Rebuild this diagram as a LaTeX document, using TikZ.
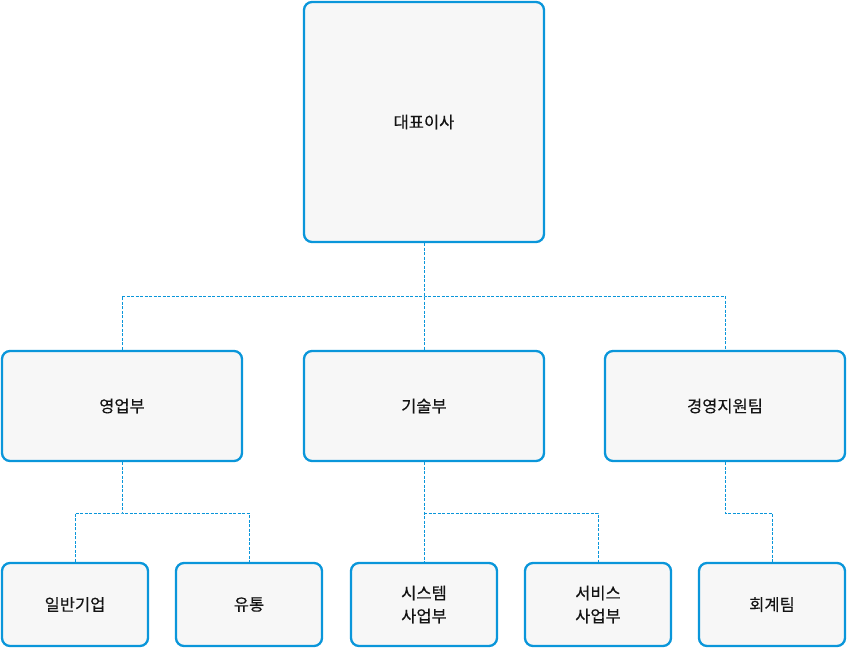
\documentclass[tikz,border=0pt]{standalone}
\usepackage{fontspec}
\setmainfont{Noto Sans CJK KR}[FakeBold=0.3]
\definecolor{lineblue}{RGB}{10,150,218}
\definecolor{boxgray}{RGB}{247,247,247}
\definecolor{textgray}{RGB}{20,20,20}

\begin{document}
\begin{tikzpicture}[x=1pt,y=-1pt,
  orgbox/.style={draw=lineblue, line width=2.3pt, fill=boxgray, rounded corners=8pt,
    minimum width=240pt, minimum height=110pt, inner sep=0pt,
    text=textgray, font=\fontsize{16.5}{23}\selectfont, align=center},
  teambox/.style={orgbox, minimum width=146pt, minimum height=83pt},
  link/.style={draw=lineblue, line width=0.9pt, dash pattern=on 3pt off 1.5pt}]
\useasboundingbox (0,0) rectangle (847,649);

% top
\node[orgbox, minimum height=240pt] (ceo) at (424,122) {대표이사};

% departments
\node[orgbox] (sales) at (122,406) {영업부};
\node[orgbox] (tech) at (424,406) {기술부};
\node[orgbox] (mgmt) at (725,406) {경영지원팀};

% teams
\node[teambox] (corp) at (75,604.5) {일반기업};
\node[teambox] (retail) at (249,604.5) {유통};
\node[teambox] (sys) at (424,604.5) {시스템\\사업부};
\node[teambox] (svc) at (598,604.5) {서비스\\사업부};
\node[teambox] (acct) at (772,604.5) {회계팀};

% connectors
\coordinate (bus1) at (424,296);
\coordinate (bus2) at (122,513);
\coordinate (bus3) at (424,513);
\coordinate (bus4) at (772,513);

\draw[link] (ceo.south) -- (tech.north);
\draw[link] (sales.north) |- (bus1) -| (mgmt.north);

\draw[link] (sales.south) -- (bus2);
\draw[link] (corp.north) |- (bus2) -| (retail.north);

\draw[link] (tech.south) -- (sys.north);
\draw[link] (bus3) -| (svc.north);

\draw[link] (mgmt.south) |- (bus4) -- (acct.north);
\end{tikzpicture}
\end{document}
